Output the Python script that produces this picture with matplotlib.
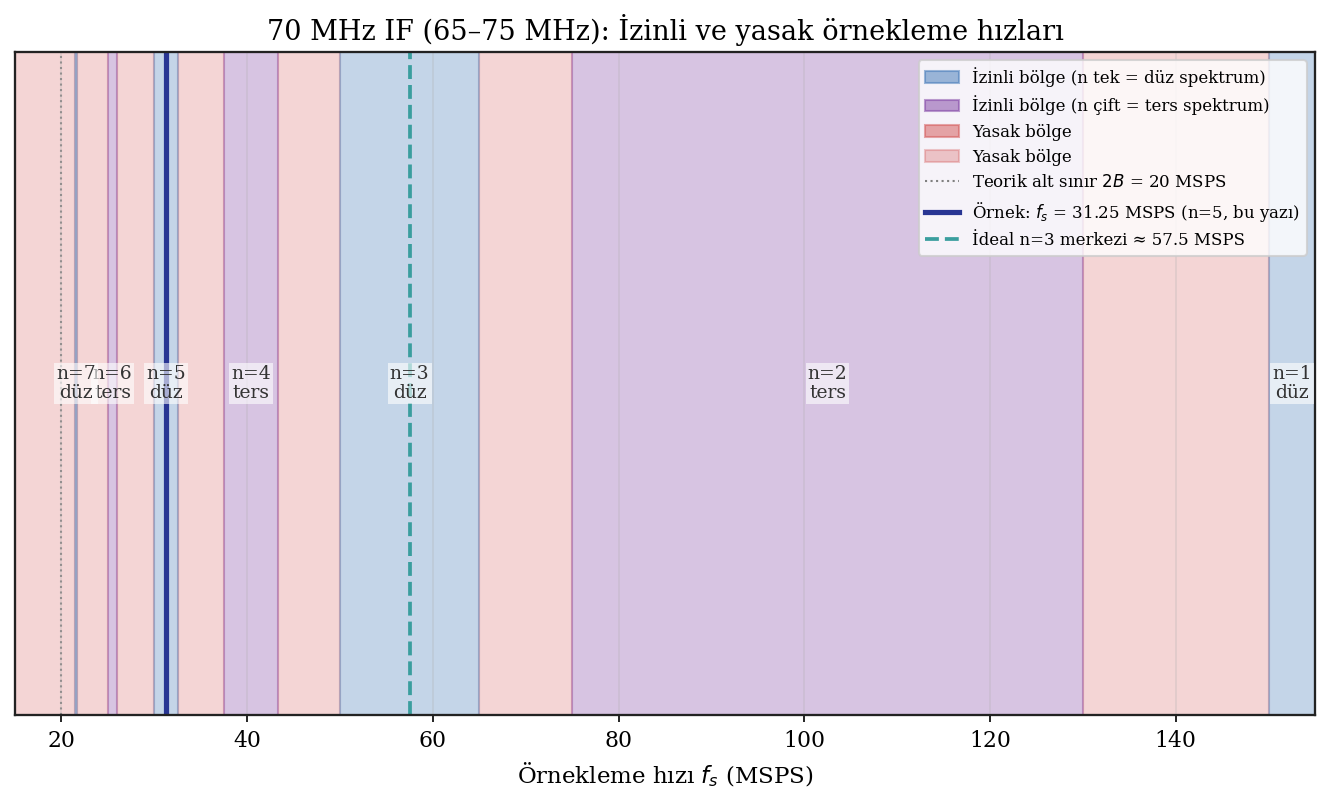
import matplotlib
matplotlib.use("Agg")
import matplotlib.pyplot as plt
from matplotlib.patches import Patch
from matplotlib.lines import Line2D

plt.rcParams['font.family'] = ['DejaVu Serif']

# Nyquist zones for the 65-75 MHz band (MSPS)
zone_n = [1, 2, 3, 4, 5, 6, 7]
zone_lo = [150.0, 75.0, 50.0, 37.5, 30.0, 25.0, 21.43]
zone_hi = [155.0, 130.0, 65.0, 43.33, 32.5, 26.0, 21.67]
zone_kind = ['düz', 'ters', 'düz', 'ters', 'düz', 'ters', 'düz']

x_min, x_max = 15, 155
fs_min = 20.0
fs_example = 31.25
fs_ideal = 57.5

blue = '#3e76b6'
purple = '#7d3ea2'
red = '#d35353'

fig = plt.figure(figsize=(1330 / 150, 801 / 150), dpi=150)
ax = fig.add_axes([0.0113, 0.1074, 0.9774, 0.8276])

# forbidden spans = gaps between allowed zones
edges = sorted(zip(zone_lo, zone_hi))
prev = x_min
for lo, hi in edges:
    if lo > prev:
        ax.axvspan(prev, lo, facecolor=red, alpha=0.24, edgecolor=red, lw=1)
    prev = hi

for n, lo, hi, kind in zip(zone_n, zone_lo, zone_hi, zone_kind):
    c = blue if n % 2 == 1 else purple
    ax.axvspan(lo, hi, facecolor=c, alpha=0.3, edgecolor=c, lw=1)
    xc = (lo + min(hi, x_max)) / 2
    ax.text(xc, 0.5, f"n={n}\n{kind}", ha='center', va='center', fontsize=9,
            color='#333333', linespacing=1.1,
            bbox=dict(facecolor='white', edgecolor='none', alpha=0.6, pad=1.0))

ax.axvline(fs_min, color='gray', ls=':', lw=1, alpha=0.8)
ax.axvline(fs_example, color='#283593', lw=2.5)
ax.axvline(fs_ideal, color='#3a9e9e', ls='--', lw=1.8)

ax.set_xlim(x_min, x_max)
ax.set_ylim(0, 1)
ax.set_yticks([])
ax.grid(axis='x', alpha=0.3)
for s in ax.spines.values():
    s.set_color('#222222')
    s.set_linewidth(1.1)
ax.tick_params(axis='x', labelsize=10.5)

ax.set_title("70 MHz IF (65–75 MHz): İzinli ve yasak örnekleme hızları", fontsize=13)
ax.set_xlabel("Örnekleme hızı $f_s$ (MSPS)", fontsize=11)

handles = [
    Patch(facecolor=blue, edgecolor=blue, alpha=0.5, label='İzinli bölge (n tek = düz spektrum)'),
    Patch(facecolor=purple, edgecolor=purple, alpha=0.5, label='İzinli bölge (n çift = ters spektrum)'),
    Patch(facecolor=red, edgecolor=red, alpha=0.5, label='Yasak bölge'),
    Patch(facecolor=red, edgecolor=red, alpha=0.3, label='Yasak bölge'),
    Line2D([], [], color='gray', ls=':', lw=1, label='Teorik alt sınır $2B$ = 20 MSPS'),
    Line2D([], [], color='#283593', lw=2.5, label='Örnek: $f_s$ = 31.25 MSPS (n=5, bu yazı)'),
    Line2D([], [], color='#3a9e9e', ls='--', lw=1.8, label='İdeal n=3 merkezi ≈ 57.5 MSPS'),
]
ax.legend(handles=handles, loc='upper right', fontsize=8, framealpha=0.8)

fig.savefig('out.png', dpi=150)
